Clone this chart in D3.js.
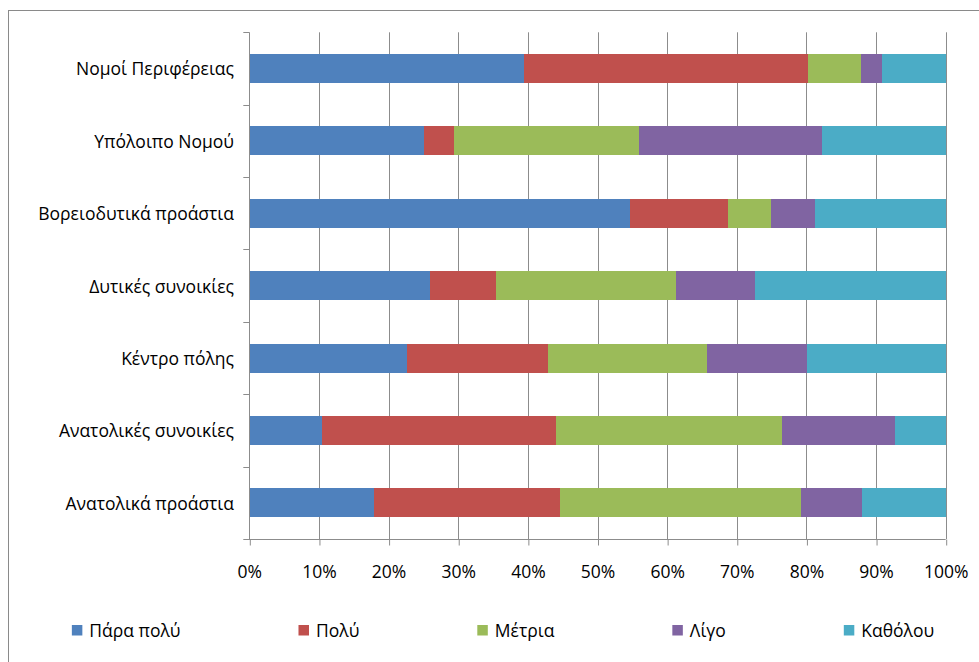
<!DOCTYPE html>
<html>
<head>
<meta charset="utf-8">
<script src="https://cdn.jsdelivr.net/npm/d3@7"></script>
<style>
  html, body { margin: 0; padding: 0; background: #fff; }
  svg { display: block; font-family: "Open Sans", "Noto Sans", sans-serif; }
</style>
</head>
<body>
<svg id="chart" width="979" height="662"></svg>
<script>
// Areas (top to bottom as drawn)
const categories = [
  "Νομοί Περιφέρειας",
  "Υπόλοιπο Νομού",
  "Βορειοδυτικά προάστια",
  "Δυτικές συνοικίες",
  "Κέντρο πόλης",
  "Ανατολικές συνοικίες",
  "Ανατολικά προάστια"
];

// Answer levels (stack order, left to right)
const seriesNames = ["Πάρα πολύ", "Πολύ", "Μέτρια", "Λίγο", "Καθόλου"];

// Percentage per answer level, one value per area
const paraPoly = [39.4, 25.1, 54.7, 25.9, 22.7, 10.4, 17.9];
const poly     = [40.8,  4.3, 14.0,  9.5, 20.2, 33.6, 26.7];
const metria   = [ 7.6, 26.6,  6.2, 25.9, 22.8, 32.5, 34.6];
const ligo     = [ 3.0, 26.2,  6.3, 11.3, 14.4, 16.2,  8.8];
const katholou = [ 9.2, 17.8, 18.8, 27.4, 19.9,  7.3, 12.0];

const xTickValues = [0, 10, 20, 30, 40, 50, 60, 70, 80, 90, 100];
const xTickLabels = ["0%", "10%", "20%", "30%", "40%", "50%", "60%", "70%", "80%", "90%", "100%"];

const colors = ["#4F81BD", "#C0504D", "#9BBB59", "#8064A2", "#4BACC6"];

// Build one row per area for the stack layout
const seriesValues = [paraPoly, poly, metria, ligo, katholou];
const rows = categories.map((c, i) => {
  const r = { category: c };
  seriesNames.forEach((s, k) => { r[s] = seriesValues[k][i]; });
  return r;
});
const stacked = d3.stack().keys(seriesNames)(rows);

const fontSize = 17.5;
const svg = d3.select("#chart");
const margin = { left: 249.3, right: 979 - 945.7, top: 32.3, bottom: 662 - 539 };
const plotW = 945.7 - margin.left;
const plotH = 539 - margin.top;

// Outer chart border
svg.append("rect")
  .attr("x", 8.5).attr("y", 10.5)
  .attr("width", 1200).attr("height", 1200)
  .attr("fill", "none").attr("stroke", "#8a8a8a").attr("stroke-width", 1);

const x = d3.scaleLinear().domain([0, 100]).range([margin.left, margin.left + plotW]);
const y = d3.scaleBand().domain(categories).range([margin.top, margin.top + plotH])
  .paddingInner(0.6).paddingOuter(0.3);
const yBand = d3.scaleBand().domain(categories).range([margin.top, margin.top + plotH]);

const axisColor = "#8c8c8c";

// Vertical gridlines
svg.append("g").selectAll("line")
  .data(xTickValues.slice(1))
  .join("line")
  .attr("x1", d => Math.round(x(d)) + 0.5).attr("x2", d => Math.round(x(d)) + 0.5)
  .attr("y1", margin.top).attr("y2", margin.top + plotH)
  .attr("stroke", axisColor).attr("stroke-width", 1);

// Bars
svg.append("g").selectAll("g")
  .data(stacked)
  .join("g")
  .attr("fill", (d, i) => colors[i])
  .selectAll("rect")
  .data(d => d)
  .join("rect")
  .attr("x", d => x(d[0]))
  .attr("width", d => x(d[1]) - x(d[0]))
  .attr("y", d => y(d.data.category))
  .attr("height", y.bandwidth())
  .attr("shape-rendering", "crispEdges");

// X axis
const xAxis = d3.axisBottom(x)
  .tickValues(xTickValues)
  .tickFormat((d, i) => xTickLabels[i])
  .tickSize(6).tickSizeOuter(0);
const gx = svg.append("g")
  .attr("transform", `translate(0,${Math.round(margin.top + plotH) + 0.5})`)
  .call(xAxis);
gx.select(".domain").remove();
gx.append("line")
  .attr("x1", margin.left - 6).attr("x2", margin.left + plotW)
  .attr("stroke", axisColor);
gx.selectAll(".tick line").attr("stroke", axisColor)
  .attr("transform", "translate(0.5,0)");
gx.selectAll(".tick text")
  .attr("y", 38).attr("dy", 0)
  .attr("fill", "#000").attr("font-size", fontSize)
  .attr("font-family", "'Open Sans', 'Noto Sans', sans-serif");

// Y axis (category ticks at band edges)
const gy = svg.append("g");
gy.append("line")
  .attr("x1", Math.round(margin.left) + 0.5).attr("x2", Math.round(margin.left) + 0.5)
  .attr("y1", margin.top).attr("y2", margin.top + plotH)
  .attr("stroke", axisColor);
gy.selectAll("line.tk")
  .data(categories)
  .join("line")
  .attr("class", "tk")
  .attr("x1", margin.left - 6).attr("x2", margin.left)
  .attr("y1", d => Math.round(yBand(d)) + 0.5).attr("y2", d => Math.round(yBand(d)) + 0.5)
  .attr("stroke", axisColor);
gy.selectAll("text")
  .data(categories)
  .join("text")
  .attr("x", 234)
  .attr("y", d => yBand(d) + yBand.bandwidth() / 2)
  .attr("dy", "0.4em")
  .attr("text-anchor", "end")
  .attr("font-size", fontSize)
  .attr("fill", "#000")
  .text(d => d);

// Legend: equal gaps between items, centered under the chart
const legendY = 631;
const legendGap = 118;
const legend = svg.append("g");
const items = legend.selectAll("g")
  .data(seriesNames)
  .join("g");
items.append("rect")
  .attr("width", 10.5).attr("height", 10.5)
  .attr("y", legendY - 6)
  .attr("fill", (d, i) => colors[i]);
items.append("text")
  .attr("x", 17.5)
  .attr("y", legendY)
  .attr("dy", "0.37em")
  .attr("font-size", fontSize)
  .attr("fill", "#000")
  .text(d => d);
let cursor = 0;
const offsets = [];
items.each(function () {
  const w = 17.5 + d3.select(this).select("text").node().getComputedTextLength();
  offsets.push(cursor);
  cursor += w + legendGap;
});
const totalW = cursor - legendGap;
const startX = 503 - totalW / 2;
items.attr("transform", (d, i) => `translate(${startX + offsets[i]},0)`);
</script>
</body>
</html>
